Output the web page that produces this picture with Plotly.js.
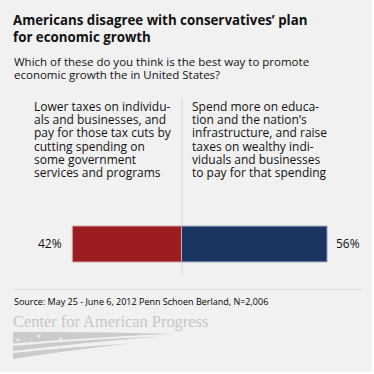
<!DOCTYPE html>
<html>
<head>
<meta charset="utf-8">
<script src="https://cdn.plot.ly/plotly-3.0.1.min.js"></script>
<style>html,body{margin:0;padding:0;background:#fff;}#chart{width:374px;height:374px;}</style>
</head>
<body>
<div id="chart"></div>
<script>
// ---- data ----
const titleText = "Americans disagree with conservatives’ plan<br>for economic growth";
const subtitleLines = ["Which of these do you think is the best way to promote", "economic growth the in United States?"];
const categories = [
  ["Lower taxes on individu-", "als and businesses, and", "pay for those tax cuts by", "cutting spending on", "some government", "services and programs"],
  ["Spend more on educa-", "tion and the nation’s", "infrastructure, and raise", "taxes on wealthy indi-", "viduals and businesses", "to pay for that spending"]
];
const values = [42, 56];
const valueLabels = ["42%", "56%"];
const sourceText = "Source: May 25 - June 6, 2012 Penn Schoen Berland, N=2,006";
const logoText = "Center for American Progress";

// ---- helpers ----
const W = 374, H = 374;
const px = x => x / W;
const py = y => 1 - y / H;
const FONT = "'Open Sans', 'Noto Sans', sans-serif";
const SERIF = "'Liberation Serif', 'DejaVu Serif', serif";
const colors = ["#9b1c21", "#1c3560"];
const borders = ["#d9a3a5", "#aab5c8"];
const center = 181.5, scale = 2.6;

const traces = values.map((v, i) => ({
  type: "bar",
  orientation: "h",
  name: categories[i].join(" "),
  y: [0],
  x: [i === 0 ? -v : v],
  width: [1],
  marker: {color: colors[i], line: {color: borders[i], width: 1}},
  hoverinfo: "skip"
}));

const annotations = [];
// subtitle
const subBase = [65, 78];
subtitleLines.forEach((t, i) => annotations.push({
  text: t, xref: "paper", yref: "paper", x: px(12), y: py(subBase[i] - 3.5), xanchor: "left", yanchor: "middle",
  showarrow: false, font: {family: FONT, size: 11.5, color: "#111"}
}));
// category labels
const catX = [32, 190];
categories.forEach((lines, c) => lines.forEach((t, i) => annotations.push({
  text: t, xref: "paper", yref: "paper", x: px(catX[c]), y: py(110.5 + i * 13.2 - 4), xanchor: "left", yanchor: "middle",
  showarrow: false, font: {family: FONT, size: 12, color: "#111"}
})));
// value labels
values.forEach((v, i) => annotations.push({
  text: valueLabels[i], xref: "x", yref: "y", x: i === 0 ? -v : v, y: 0,
  xanchor: i === 0 ? "right" : "left", xshift: i === 0 ? -8 : 7, yanchor: "middle",
  showarrow: false, font: {family: FONT, size: 12, color: "#111"}
}));
// source
annotations.push({
  text: sourceText, xref: "paper", yref: "paper", x: px(12), y: py(301), xanchor: "left", yanchor: "middle",
  showarrow: false, font: {family: FONT, size: 9, color: "#000"}
});
// logo text
annotations.push({
  text: logoText, xref: "paper", yref: "paper", x: px(11), y: py(321.5), xanchor: "left", yanchor: "middle",
  showarrow: false, font: {family: SERIF, size: 16.4, color: "#c6c6c6"}
});
// logo stars
[[17, 339], [38, 335], [31, 342], [60, 338]].forEach(p => annotations.push({
  text: "★", xref: "paper", yref: "paper", x: px(p[0]), y: py(p[1]), xanchor: "center", yanchor: "middle",
  showarrow: false, font: {family: "DejaVu Sans", size: 6, color: "#efefef"}
}));

const P = pts => pts.map((p, i) => (i === 0 ? "M" : (p.length === 4 ? "Q" : "L")) + p.map((v, j) => (j % 2 === 0 ? px(v) : py(v)).toFixed(4)).join(",")).join(" ") + " Z";

const shapes = [
  {type: "rect", xref: "paper", yref: "paper", x0: 0, x1: px(372), y0: py(372), y1: 1, fillcolor: "#f1f1f1", line: {width: 0}, layer: "below"},
  {type: "line", xref: "paper", yref: "paper", x0: px(14), x1: px(362), y0: py(289.5), y1: py(289.5), line: {color: "#dcdcdc", width: 1}},
  // flag swoosh
  {type: "path", xref: "paper", yref: "paper", path: P([[13, 332], [100, 331.5, 175, 334], [110, 336, 13, 343.5]]), fillcolor: "#cbcbcb", line: {width: 0}},
  {type: "path", xref: "paper", yref: "paper", path: P([[13, 346], [90, 339, 160, 336.5], [90, 342, 13, 351]]), fillcolor: "#cbcbcb", line: {width: 0}},
  {type: "path", xref: "paper", yref: "paper", path: P([[13, 353], [70, 347, 130, 343.5], [70, 350, 13, 359]]), fillcolor: "#cbcbcb", line: {width: 0}}
];

const layout = {
  width: W, height: H,
  margin: {l: 0, r: 0, t: 0, b: 0},
  paper_bgcolor: "#ffffff",
  plot_bgcolor: "rgba(0,0,0,0)",
  showlegend: false,
  barmode: "relative",
  title: {
    text: "<b>" + titleText + "</b>",
    xref: "container", yref: "container", x: px(13), xanchor: "left", y: py(24.5), yanchor: "middle",
    font: {family: FONT, size: 13.3, color: "#111"}
  },
  xaxis: {domain: [0, 1], range: [-center / scale, (W - center) / scale], showgrid: false, showticklabels: false, ticks: "",
          zeroline: true, zerolinecolor: "#e3e3e3", zerolinewidth: 2, fixedrange: true},
  yaxis: {domain: [py(275), py(97)], range: [-(275 - 244) / 36, (244 - 97) / 36], showgrid: false, showticklabels: false, ticks: "",
          zeroline: false, fixedrange: true},
  annotations: annotations,
  shapes: shapes
};

Plotly.newPlot("chart", traces, layout, {displayModeBar: false, staticPlot: true});
</script>
</body>
</html>
